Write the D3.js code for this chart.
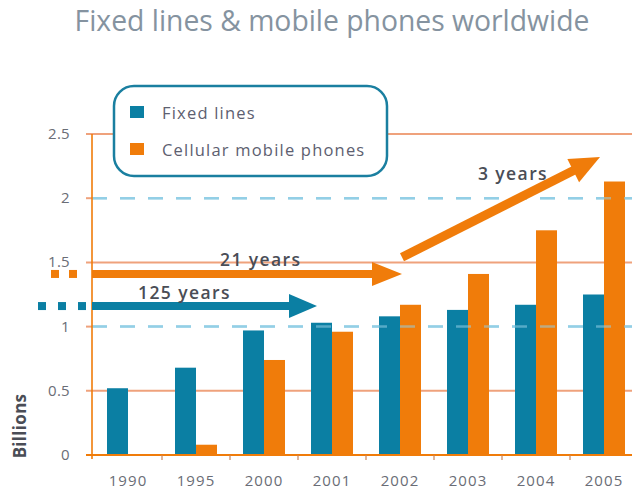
<!DOCTYPE html>
<html>
<head>
<meta charset="utf-8">
<script src="https://cdn.jsdelivr.net/npm/d3@7"></script>
<style>
  html, body { margin: 0; padding: 0; background: #fff; }
  svg { display: block; font-family: "Open Sans", "Noto Sans", sans-serif; }
</style>
</head>
<body>
<svg id="chart" width="637" height="493"></svg>
<script>
const years = ["1990", "1995", "2000", "2001", "2002", "2003", "2004", "2005"];
const fixedLines = [0.52, 0.68, 0.97, 1.03, 1.08, 1.13, 1.17, 1.25];
const mobilePhones = [0.0, 0.08, 0.74, 0.96, 1.17, 1.41, 1.75, 2.13];
const seriesNames = ["Fixed lines", "Cellular mobile phones"];
const yTicks = [0, 0.5, 1, 1.5, 2, 2.5];
const solidGrid = [0.5, 1.5, 2.5];
const dashedGrid = [1, 2];
const titleText = "Fixed lines & mobile phones worldwide";
const arrowLabels = ["125 years", "21 years", "3 years"];

const TEAL = "#0b7fa3";
const ORANGE = "#f07c0a";
const GRID = "#efa27c";
const TEXT = "#6a6d76";

const svg = d3.select("#chart");

const x = d3.scaleBand().domain(years).range([94, 638]).padding(0);
const x1 = d3.scaleBand().domain(seriesNames).range([13, 55]).padding(0);
const y = d3.scaleLinear().domain([0, 2.5]).range([455, 134]);

const gridLeft = 86, gridRight = 632, axisX = 92;

// Title
const title = svg.append("text")
  .attr("x", 332).attr("y", 31)
  .attr("text-anchor", "middle")
  .attr("fill", "#8593a0")
  .attr("font-size", 24)
  .attr("font-weight", 500)
  .text(titleText);
const tw = title.node().getComputedTextLength();
title.attr("font-size", 24 * 515 / tw);

// Solid gridlines
svg.append("g").selectAll("line").data(solidGrid).join("line")
  .attr("x1", gridLeft).attr("x2", gridRight)
  .attr("y1", d => y(d)).attr("y2", d => y(d))
  .attr("stroke", GRID).attr("stroke-width", 2);

// Dashed gridlines
svg.append("g").selectAll("line").data(dashedGrid).join("line")
  .attr("x1", axisX).attr("x2", gridRight)
  .attr("y1", d => y(d)).attr("y2", d => y(d))
  .attr("stroke", "#93cfe6").attr("stroke-width", 2.5)
  .attr("stroke-dasharray", "15,13");
// tick stubs for dashed lines
svg.append("g").selectAll("line").data(dashedGrid).join("line")
  .attr("x1", gridLeft).attr("x2", axisX)
  .attr("y1", d => y(d)).attr("y2", d => y(d))
  .attr("stroke", GRID).attr("stroke-width", 2);

// Y tick labels
svg.append("g").selectAll("text").data(yTicks).join("text")
  .attr("x", 70).attr("y", d => y(d) + 5)
  .attr("text-anchor", "end")
  .attr("font-size", 15)
  .attr("letter-spacing", 0.3)
  .attr("fill", TEXT)
  .text(d => d);

// Y axis title
svg.append("text")
  .attr("transform", "translate(26,426) rotate(-90)")
  .attr("text-anchor", "middle")
  .attr("font-size", 17)
  .attr("font-weight", 700)
  .attr("letter-spacing", 0.3)
  .attr("fill", "#4a4d56")
  .text("Billions");

// Bars
const groups = svg.append("g").selectAll("g").data(years).join("g")
  .attr("transform", d => `translate(${x(d)},0)`);
groups.append("rect")
  .attr("x", x1(seriesNames[0])).attr("width", x1.bandwidth())
  .attr("y", (d, i) => y(fixedLines[i]))
  .attr("height", (d, i) => y(0) - y(fixedLines[i]))
  .attr("fill", TEAL);
groups.append("rect")
  .attr("x", x1(seriesNames[1])).attr("width", x1.bandwidth())
  .attr("y", (d, i) => y(mobilePhones[i]))
  .attr("height", (d, i) => y(0) - y(mobilePhones[i]))
  .attr("fill", ORANGE);

// Dashed lines showing through bars
svg.append("g").selectAll("line").data(dashedGrid).join("line")
  .attr("x1", axisX).attr("x2", gridRight)
  .attr("y1", d => y(d)).attr("y2", d => y(d))
  .attr("stroke", "#93cfe6").attr("stroke-width", 2.5)
  .attr("stroke-opacity", 0.55)
  .attr("stroke-dasharray", "15,13");

// Axes lines
svg.append("line")
  .attr("x1", gridLeft).attr("x2", gridRight)
  .attr("y1", y(0)).attr("y2", y(0))
  .attr("stroke", ORANGE).attr("stroke-width", 2);
svg.append("line")
  .attr("x1", axisX).attr("x2", axisX)
  .attr("y1", y(2.5)).attr("y2", y(0) + 4)
  .attr("stroke", ORANGE).attr("stroke-width", 1.6);

// X ticks at band boundaries
svg.append("g").selectAll("line").data(years.slice(1)).join("line")
  .attr("x1", d => x(d)).attr("x2", d => x(d))
  .attr("y1", y(0)).attr("y2", y(0) + 5)
  .attr("stroke", "#c8845a").attr("stroke-width", 1.2);

// X labels
svg.append("g").selectAll("text").data(years).join("text")
  .attr("x", d => x(d) + x.bandwidth() / 2)
  .attr("y", 486)
  .attr("text-anchor", "middle")
  .attr("font-size", 15)
  .attr("letter-spacing", 1.1)
  .attr("fill", TEXT)
  .text(d => d);

// Arrows
function arrow(x0, y0, x1p, y1p, color, headLen, headW, thick) {
  const dx = x1p - x0, dy = y1p - y0;
  const len = Math.hypot(dx, dy);
  const ux = dx / len, uy = dy / len;
  const px = -uy, py = ux;
  const bx = x1p - ux * headLen, by = y1p - uy * headLen;
  svg.append("line")
    .attr("x1", x0).attr("y1", y0).attr("x2", bx + ux * 2).attr("y2", by + uy * 2)
    .attr("stroke", color).attr("stroke-width", thick);
  svg.append("path")
    .attr("d", `M${x1p},${y1p} L${bx + px * headW / 2},${by + py * headW / 2} L${bx - px * headW / 2},${by - py * headW / 2} Z`)
    .attr("fill", color);
}

// Teal arrow (125 years)
const tealY = y(1.16);
[42, 62, 82].forEach(cx => {
  svg.append("rect").attr("x", cx - 4).attr("y", tealY - 4).attr("width", 8).attr("height", 8).attr("fill", TEAL);
});
arrow(axisX, tealY, x("2001") + 19, tealY, TEAL, 28, 24, 8);

// Orange arrow (21 years)
const orY = y(1.41);
[55, 73].forEach(cx => {
  svg.append("rect").attr("x", cx - 4).attr("y", orY - 4).attr("width", 8).attr("height", 8).attr("fill", ORANGE);
});
arrow(axisX, orY, x("2002") + 36, orY, ORANGE, 30, 24, 8);

// Diagonal arrow (3 years)
arrow(x("2002") + 36, y(1.54), x("2005") + 30, y(2.32), ORANGE, 30, 26, 9);

// Arrow labels
const labelPos = [[138, 299], [220, 266], [478, 180]];
arrowLabels.forEach((t, i) => {
  svg.append("text").attr("x", labelPos[i][0]).attr("y", labelPos[i][1])
    .attr("font-size", 17.5).attr("font-weight", 600).attr("letter-spacing", 1.4)
    .attr("fill", "#4a4d56").text(t);
});

// Legend
const lg = svg.append("g");
lg.append("rect")
  .attr("x", 114).attr("y", 86).attr("width", 273).attr("height", 90)
  .attr("rx", 20).attr("ry", 20)
  .attr("fill", "#fff").attr("stroke", "#1a7fa0").attr("stroke-width", 2.5);
[TEAL, ORANGE].forEach((c, i) => {
  lg.append("rect").attr("x", 130).attr("y", 106 + i * 37).attr("width", 14).attr("height", 12).attr("fill", c);
  lg.append("text").attr("x", 162).attr("y", 119 + i * 37).attr("font-size", 16.5)
    .attr("letter-spacing", 1.2)
    .attr("fill", "#5d6070").text(seriesNames[i]);
});
</script>
</body>
</html>
